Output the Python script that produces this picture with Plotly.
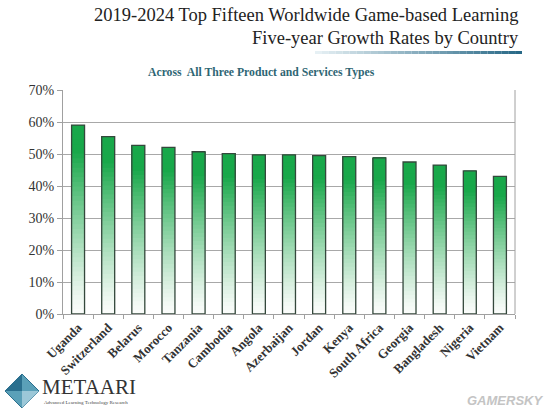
import plotly.graph_objects as go
import numpy as np

countries = ["Uganda", "Switzerland", "Belarus", "Morocco", "Tanzania", "Cambodia", "Angola",
             "Azerbaijan", "Jordan", "Kenya", "South Africa", "Georgia", "Bangladesh", "Nigeria", "Vietnam"]
growth = [0.590, 0.554, 0.527, 0.521, 0.507, 0.501, 0.497, 0.497, 0.495, 0.492, 0.488, 0.475, 0.465, 0.447, 0.430]
y_ticks = [0, 0.1, 0.2, 0.3, 0.4, 0.5, 0.6, 0.7]
y_tick_labels = ["0%", "10%", "20%", "30%", "40%", "50%", "60%", "70%"]

vals = np.array(growth)
fig = go.Figure()

# gradient: overlaid bars covering from fraction f of the bar up to its top
N = 40
top_rgb = np.array([24, 168, 74])
bot_rgb = np.array([250, 252, 250])
for k in range(N):
    f = k / N
    t = min(1.0, (f / 0.85)) ** 1.2
    c = bot_rgb + (top_rgb - bot_rgb) * t
    fig.add_trace(go.Bar(
        x=countries, y=vals * (1 - f), base=vals * f,
        marker=dict(color="rgb(%d,%d,%d)" % tuple(c.astype(int)), line=dict(width=0)),
        hoverinfo="skip", showlegend=False))
# outline
fig.add_trace(go.Bar(
    x=countries, y=vals,
    marker=dict(color="rgba(0,0,0,0)", line=dict(color="#34483c", width=1.3)),
    showlegend=False))

fig.update_layout(
    width=550, height=413,
    margin=dict(l=63, r=35, t=90, b=99, autoexpand=False),
    paper_bgcolor="white", plot_bgcolor="white",
    barmode="overlay", bargap=0.57,
    font=dict(family="Liberation Serif, Times New Roman, serif", color="#222"),
    xaxis=dict(
        automargin=False,
        tickangle=-45, tickfont=dict(size=13, family="Liberation Serif", color="#333", weight="bold"),
        showline=True, linecolor="#a0a0a0", linewidth=1,
        ticks="outside", tickson="boundaries", ticklen=4, tickcolor="#a0a0a0",
        showgrid=False, mirror=False),
    yaxis=dict(
        automargin=False,
        range=[0, 0.7], tickvals=y_ticks, ticktext=y_tick_labels,
        tickfont=dict(size=14, family="Liberation Serif", color="#333"),
        showline=True, linecolor="#a0a0a0", linewidth=1,
        ticks="outside", ticklen=5, tickcolor="#a0a0a0",
        showgrid=True, gridcolor="#a8a8a8", gridwidth=1, zeroline=False),
)

# right border line
fig.add_shape(type="line", xref="paper", yref="paper", x0=1, x1=1, y0=0, y1=1,
              line=dict(color="#a0a0a0", width=1))

def px(x):
    return (x - 63) / 452
def py(y):
    return (314 - y) / 224

# Titles
fig.add_annotation(text="2019-2024 Top Fifteen Worldwide Game-based Learning",
                   xref="paper", yref="paper", x=px(521), y=py(15),
                   xanchor="right", yanchor="middle", showarrow=False,
                   font=dict(size=18.5, family="Liberation Serif", color="#222"))
fig.add_annotation(text="Five-year Growth Rates by Country",
                   xref="paper", yref="paper", x=px(521), y=py(38),
                   xanchor="right", yanchor="middle", showarrow=False,
                   font=dict(size=18.5, family="Liberation Serif", color="#222"))
# gradient underline
M = 30
x_start, x_end = 315, 522
for i in range(M):
    t = i / (M - 1)
    c = np.array([230, 240, 244]) + (np.array([40, 105, 135]) - np.array([230, 240, 244])) * t
    xa = x_start + (x_end - x_start) * i / M
    xb = x_start + (x_end - x_start) * (i + 1) / M
    fig.add_shape(type="rect", xref="paper", yref="paper",
                  x0=px(xa), x1=px(xb), y0=py(54), y1=py(51),
                  line=dict(width=0), fillcolor="rgb(%d,%d,%d)" % tuple(c.astype(int)))

fig.add_annotation(text="<b>Across  All Three Product and Services Types</b>",
                   xref="paper", yref="paper", x=px(261), y=py(72),
                   xanchor="center", yanchor="middle", showarrow=False,
                   font=dict(size=11.7, family="Liberation Serif", color="#2e6674"))

# Logo
cx, cy, r = 22, 391, 17
fig.add_shape(type="path", xref="paper", yref="paper",
              path="M %f %f L %f %f L %f %f L %f %f Z" % (px(cx - r), py(cy), px(cx), py(cy - r),
                                                           px(cx + r), py(cy), px(cx), py(cy + r)),
              fillcolor="#5aa0b8", line=dict(color="#2a6f8e", width=1))
fig.add_shape(type="path", xref="paper", yref="paper",
              path="M %f %f L %f %f L %f %f Z" % (px(cx - r), py(cy), px(cx), py(cy - r), px(cx), py(cy)),
              fillcolor="#2a6f8e", line=dict(width=0))
fig.add_shape(type="path", xref="paper", yref="paper",
              path="M %f %f L %f %f L %f %f Z" % (px(cx + r), py(cy), px(cx), py(cy + r), px(cx), py(cy)),
              fillcolor="#9cc8d8", line=dict(width=0))
fig.add_annotation(text="METAARI", xref="paper", yref="paper", x=px(40), y=py(387),
                   xanchor="left", yanchor="middle", showarrow=False,
                   font=dict(size=21, family="Liberation Serif", color="#333"))
fig.add_annotation(text="Advanced Learning Technology Research", xref="paper", yref="paper",
                   x=px(42), y=py(402), xanchor="left", yanchor="middle", showarrow=False,
                   font=dict(size=5, family="Liberation Serif", color="#444"))
fig.add_annotation(text="<b><i>GAMERSKY</i></b>", xref="paper", yref="paper",
                   x=px(545), y=py(400), xanchor="right", yanchor="middle", showarrow=False,
                   font=dict(size=13, family="Liberation Sans", color="#c4c4c4"))

fig.write_html("out.html", config={"displayModeBar": False},
               post_script="document.body.style.margin='0';document.body.style.overflow='hidden';")
